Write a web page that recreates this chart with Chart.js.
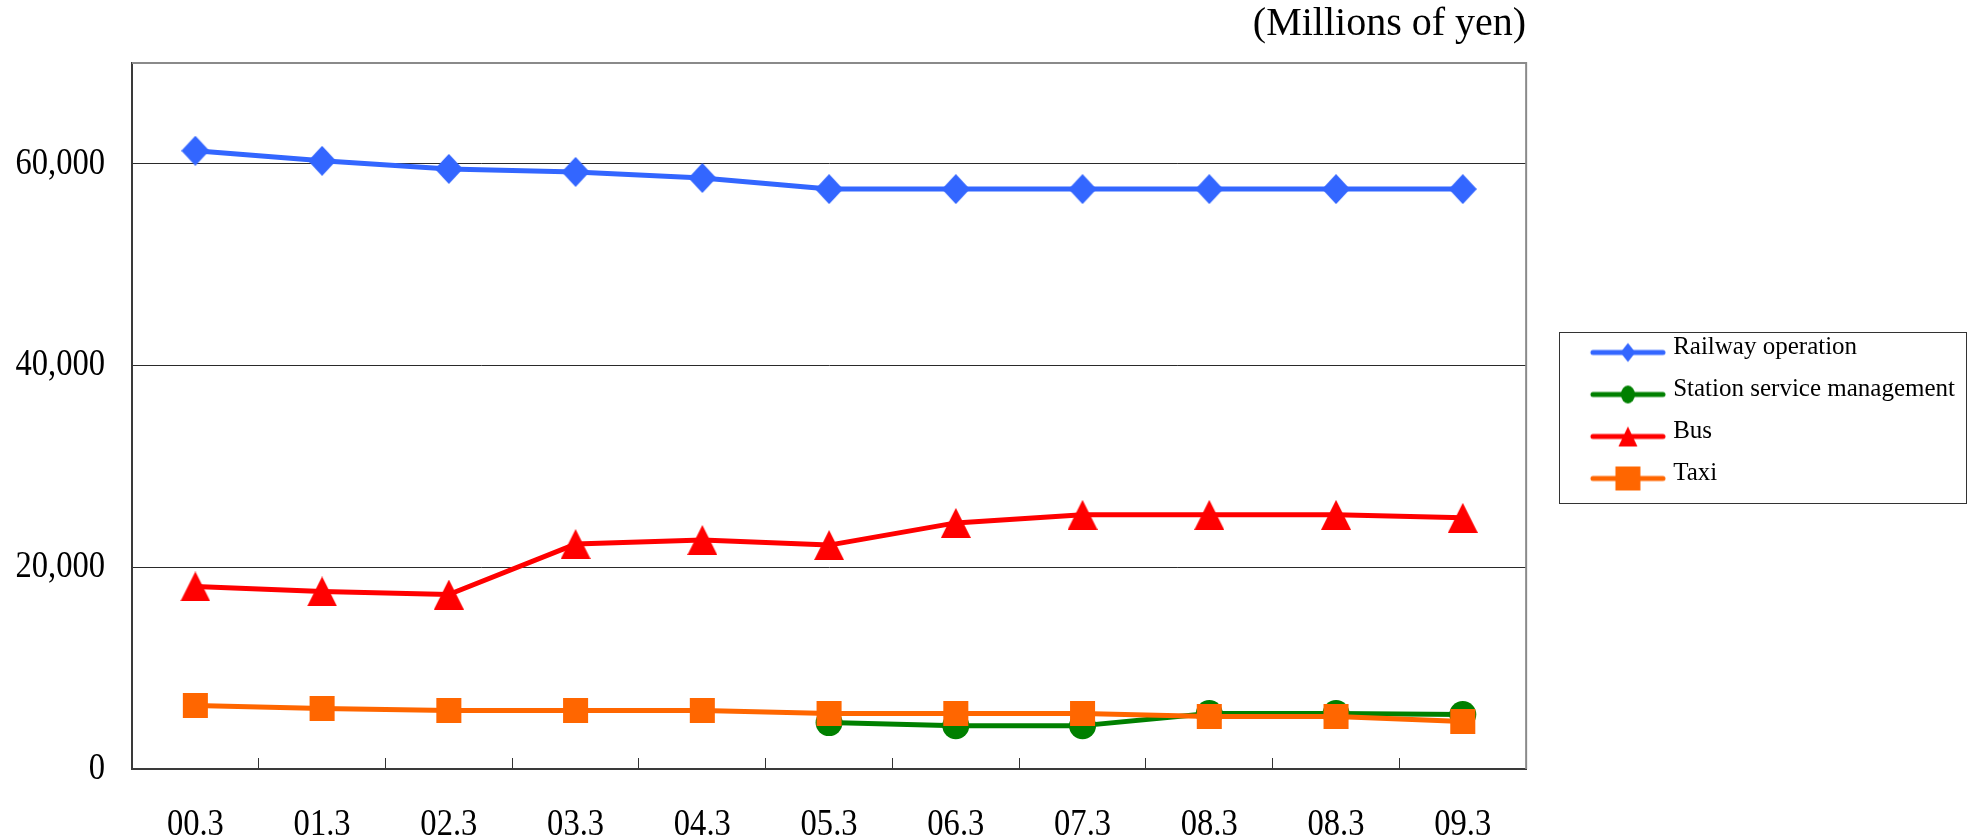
<!DOCTYPE html>
<html>
<head>
<meta charset="utf-8">
<title>Segment operating revenue</title>
<script src="https://cdn.jsdelivr.net/npm/chart.js@4.4.1/dist/chart.umd.min.js"></script>
<style>
  html, body { margin: 0; padding: 0; background: #ffffff; }
  canvas { display: block; }
</style>
</head>
<body>
<canvas id="chart" width="1968" height="839"></canvas>
<script>
// Fiscal year-end labels (the 08.3 repeat is part of the source table)
const categories = ['00.3', '01.3', '02.3', '03.3', '04.3', '05.3', '06.3', '07.3', '08.3', '08.3', '09.3'];

// Operating revenue by segment, millions of yen
const railwayOperation = [61300, 60300, 59500, 59200, 58600, 57500, 57500, 57500, 57500, 57500, 57500];
const stationServiceManagement = [null, null, null, null, null, 4600, 4300, 4300, 5500, 5500, 5400];
const bus = [18100, 17600, 17300, 22300, 22700, 22200, 24400, 25200, 25200, 25200, 24900];
const taxi = [6300, 6000, 5800, 5800, 5800, 5500, 5500, 5500, 5200, 5200, 4700];

const seriesNames = ['Railway operation', 'Station service management', 'Bus', 'Taxi'];
const yTickValues = [0, 20000, 40000, 60000];
const unitLabel = '(Millions of yen)';

const BLUE = '#3366ff';
const GREEN = '#008000';
const RED = '#ff0000';
const ORANGE = '#ff6600';
const SERIF = "'Liberation Serif', 'Times New Roman', serif";
const TICK_STRETCH = 0.88;   // axis numerals are set in a narrow serif

// ---- marker bitmaps -------------------------------------------------------
function makeCanvas(w, h) {
  const c = document.createElement('canvas');
  c.width = w; c.height = h;
  return c;
}

function triangleMarker(w, h, color) {
  const c = makeCanvas(w, h);
  const g = c.getContext('2d');
  g.fillStyle = color;
  g.beginPath();
  g.moveTo(w / 2, 0);
  g.lineTo(w, h);
  g.lineTo(0, h);
  g.closePath();
  g.fill();
  return c;
}

function diamondMarker(w, h, color) {
  const c = makeCanvas(w, h);
  const g = c.getContext('2d');
  g.fillStyle = color;
  g.beginPath();
  g.moveTo(w / 2, 0);
  g.lineTo(w, h / 2);
  g.lineTo(w / 2, h);
  g.lineTo(0, h / 2);
  g.closePath();
  g.fill();
  return c;
}

// Legend swatch: a short line with the series marker on it. The swatch
// sits in the right part of a wider transparent bitmap so that the legend
// column keeps a clear gap from the plot.
const SWATCH_W = 128, SWATCH_H = 50;
function legendSwatch(color, shape) {
  const c = makeCanvas(SWATCH_W, SWATCH_H);
  const g = c.getContext('2d');
  const x0 = SWATCH_W - 76, x1 = SWATCH_W, cx = (x0 + x1) / 2, cy = 30;
  g.strokeStyle = color;
  g.fillStyle = color;
  g.lineWidth = 5;
  g.lineCap = 'round';
  g.beginPath();
  g.moveTo(x0 + 3, cy);
  g.lineTo(x1 - 3, cy);
  g.stroke();
  g.beginPath();
  if (shape === 'diamond') {
    g.moveTo(cx, cy - 9.5); g.lineTo(cx + 7.5, cy); g.lineTo(cx, cy + 9.5); g.lineTo(cx - 7.5, cy);
  } else if (shape === 'circle') {
    g.ellipse(cx, cy, 7, 9, 0, 0, Math.PI * 2);
  } else if (shape === 'triangle') {
    g.moveTo(cx, cy - 10); g.lineTo(cx + 9.5, cy + 10); g.lineTo(cx - 9.5, cy + 10);
  } else {
    g.rect(cx - 12.5, cy - 12, 25, 24);
  }
  g.closePath();
  g.fill();
  return c;
}

const swatches = [
  legendSwatch(BLUE, 'diamond'),
  legendSwatch(GREEN, 'circle'),
  legendSwatch(RED, 'triangle'),
  legendSwatch(ORANGE, 'square')
];

// ---- canvas + narrow numerals ----------------------------------------------
const canvas = document.getElementById('chart');
const ctx = canvas.getContext('2d');
let textStretch = 1;
const plainFillText = ctx.fillText;
ctx.fillText = function (text, x, y, maxWidth) {
  if (textStretch === 1) {
    return plainFillText.call(this, text, x, y, maxWidth);
  }
  this.save();
  this.translate(x, y);
  this.scale(textStretch, 1);
  plainFillText.call(this, text, 0, 0);
  this.restore();
};

// tick labels are drawn on layer z=1, i.e. after the datasets
const narrowTickText = {
  id: 'narrowTickText',
  afterDatasetsDraw() { textStretch = TICK_STRETCH; },
  afterDraw() { textStretch = 1; }
};

// top/right edge of the plot and the frame around the legend
const frames = {
  id: 'frames',
  beforeDatasetsDraw(chart) {
    const { ctx: g, chartArea: a } = chart;
    g.save();
    g.strokeStyle = '#8a8a8a';
    g.lineWidth = 2;
    g.beginPath();
    g.moveTo(a.left, a.top);
    g.lineTo(a.right, a.top);
    g.lineTo(a.right, a.bottom);
    g.stroke();

    const hits = chart.legend && chart.legend.legendHitBoxes;
    if (hits && hits.length) {
      const first = hits[0], last = hits[hits.length - 1];
      const left = Math.round(first.left + 16) + 0.5;
      const top = Math.round(first.top - 3) + 0.5;
      const right = chart.width - 1.5;
      const bottom = Math.round(last.top + last.height + 17) + 0.5;
      g.strokeStyle = '#333333';
      g.lineWidth = 1;
      g.strokeRect(left, top, right - left, bottom - top);
    }
    g.restore();
  }
};

const series = [
  { name: seriesNames[0], data: railwayOperation, color: BLUE, style: diamondMarker(28, 30, BLUE), radius: 15, order: 3 },
  { name: seriesNames[1], data: stationServiceManagement, color: GREEN, style: 'circle', radius: 13.5, order: 2 },
  { name: seriesNames[2], data: bus, color: RED, style: triangleMarker(30, 30, RED), radius: 15, order: 1 },
  { name: seriesNames[3], data: taxi, color: ORANGE, style: 'rect', radius: 17.7, order: 0 }
];

new Chart(ctx, {
  type: 'line',
  data: {
    labels: categories,
    datasets: series.map(s => ({
      label: s.name,
      data: s.data,
      borderColor: s.color,
      backgroundColor: s.color,
      borderWidth: 5,
      borderJoinStyle: 'round',
      borderCapStyle: 'round',
      tension: 0,
      fill: false,
      spanGaps: false,
      pointStyle: s.style,
      pointRadius: s.radius,
      pointHoverRadius: s.radius,
      pointBorderWidth: 0,
      pointBackgroundColor: s.color,
      pointBorderColor: s.color,
      order: s.order
    }))
  },
  options: {
    responsive: false,
    devicePixelRatio: 1,
    animation: false,
    events: [],
    layout: { padding: { top: -18, left: 0, right: 3, bottom: 0 } },
    plugins: {
      tooltip: { enabled: false },
      title: {
        display: true,
        text: unitLabel,
        align: 'end',
        fullSize: false,
        color: '#000000',
        font: { family: SERIF, size: 40, weight: 'normal', lineHeight: 1 },
        padding: { top: 22, bottom: 19 }
      },
      legend: {
        position: 'right',
        align: 'center',
        labels: {
          usePointStyle: true,
          pointStyleWidth: 117.5,
          boxHeight: 25,
          padding: 17,
          color: '#000000',
          font: { family: SERIF, size: 25 },
          generateLabels(chart) {
            return chart.data.datasets.map((ds, i) => ({
              text: ds.label,
              fillStyle: ds.borderColor,
              strokeStyle: ds.borderColor,
              fontColor: '#000000',
              lineWidth: 0,
              pointStyle: swatches[i],
              hidden: false,
              datasetIndex: i
            }));
          }
        }
      }
    },
    scales: {
      x: {
        offset: true,
        afterFit(scale) { scale.height = 70; },
        grid: {
          offset: true,
          drawOnChartArea: false,
          drawTicks: true,
          tickLength: -11,
          color: '#333333',
          lineWidth: 1
        },
        border: { display: true, color: '#3a3a3a', width: 2 },
        ticks: {
          z: 1,
          color: '#000000',
          font: { family: SERIF, size: 37, lineHeight: 1 },
          padding: 49,
          autoSkip: false,
          maxRotation: 0,
          minRotation: 0
        }
      },
      y: {
        min: 0,
        max: 70000,
        afterBuildTicks(scale) { scale.ticks = yTickValues.map(v => ({ value: v })); },
        afterFit(scale) { scale.width = 132; },
        grid: {
          drawTicks: false,
          lineWidth: 1,
          color: c => (c.tick && c.tick.value === 0) ? 'rgba(0,0,0,0)' : '#2a2a2a'
        },
        border: { display: true, color: '#3a3a3a', width: 2 },
        ticks: {
          z: 1,
          color: '#000000',
          font: { family: SERIF, size: 37, lineHeight: 1 },
          padding: 27,
          callback: v => Number(v).toLocaleString('en-US')
        }
      }
    }
  },
  plugins: [narrowTickText, frames]
});
</script>
</body>
</html>
